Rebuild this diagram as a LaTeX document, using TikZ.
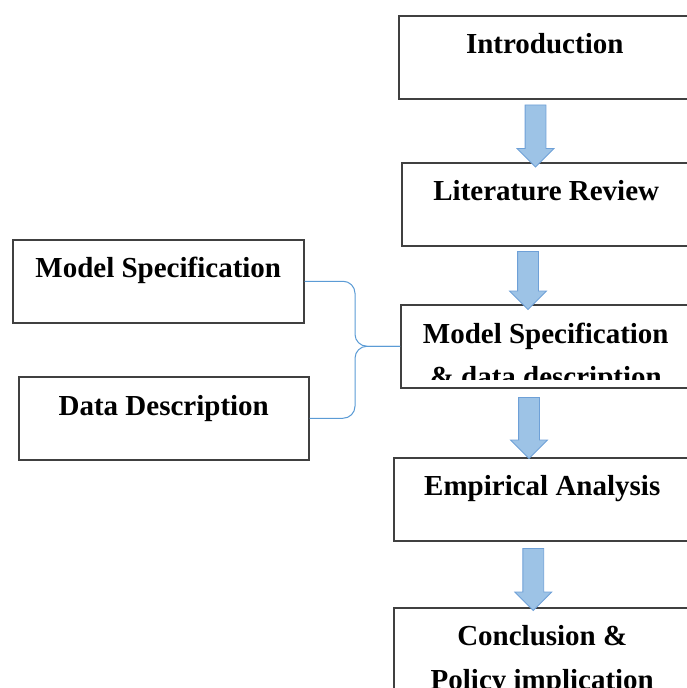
\documentclass[tikz,border=0pt]{standalone}
\usepackage{fontspec}
\setmainfont{Liberation Serif}
\usepackage{tikz}
\usetikzlibrary{positioning, calc, shapes.arrows}

\definecolor{arrowfill}{RGB}{157,195,230}
\definecolor{arrowline}{RGB}{110,160,215}
\definecolor{linkblue}{RGB}{91,155,213}

\begin{document}
\begin{tikzpicture}[
  x=1pt, y=-1pt,
  font=\bfseries\fontsize{29}{42}\selectfont,
  box/.style={draw=black!75, line width=1.5pt, minimum height=83pt,
    inner sep=0pt, anchor=north west},
  txt/.style={anchor=base, inner sep=0pt},
  blockarrow/.style={single arrow, rotate=-90, draw=arrowline, fill=arrowfill,
    line width=0.8pt, inner sep=10pt, single arrow head extend=8pt},
  link/.style={draw=linkblue, line width=1pt, rounded corners=12pt},
]
  \useasboundingbox (0,0) rectangle (686,688);

  % main column (runs off the right edge)
  \node[box, minimum width=292pt] (intro) at (398,15) {};
  \node[box, minimum width=289pt] (lit) at (401,162) {};
  \node[box, minimum width=290pt] (mdd) at (400,304) {};
  \node[box, minimum width=297pt] (emp) at (393,457) {};
  \node[box, minimum width=297pt, minimum height=100pt] (concl) at (393,607) {};

  % side boxes
  \node[box, minimum width=291pt] (msL) at (12,239) {};
  \node[box, minimum width=290pt] (ddL) at (18,376) {};

  \node[txt] (introT) at ($(intro.north)+(0,38)$) {Introduction};
  \node[txt] (litT) at ($(lit.north)+(0,38)$) {Literature Review};
  \node[txt] (mddT) at ($(mdd.north)+(0,39)$) {Model Specification};
  \begin{scope}
    \clip (mdd.north west) rectangle ($(mdd.south east)+(0,-9)$);
    \node[txt] (mddT2) at ($(mdd.north)+(0,82)$) {\& data description};
  \end{scope}
  \node[txt] (empT) at ($(emp.north)+(0,38)$) {Empirical Analysis};
  \node[txt] (conclT) at ($(concl.north)+(0,38)$) {Conclusion \&};
  \node[txt] (conclT2) at ($(concl.north)+(0,82)$) {Policy implication};
  \node[txt] (msT) at ($(msL.north)+(0,38)$) {Model Specification};
  \node[txt] (ddT) at ($(ddL.north)+(0,39)$) {Data Description};

  \foreach \a/\b/\s/\l in {intro/lit/-10/62, lit/mdd/-18/58,
                           mdd/emp/-15/61, emp/concl/-9/62}
    \node[blockarrow, minimum height=\l pt] (\a-\b)
      at ($(\a.south)!.5!(\b.north)+(\s,0)$) {};

  \draw[link] (msL.east) -| ($(mdd.west)+(-45,0)$) -- (mdd.west);
  \draw[link] (ddL.east) -| ($(mdd.west)+(-45,0)$) -- (mdd.west);
\end{tikzpicture}
\end{document}
